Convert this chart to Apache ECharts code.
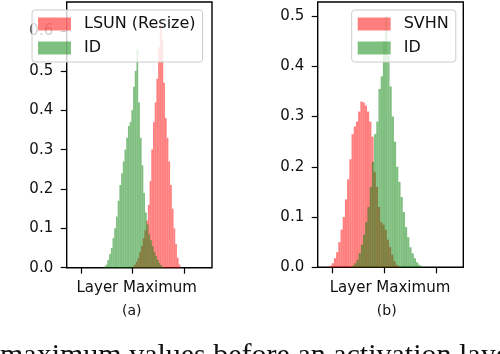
<!DOCTYPE html>
<html>
<head>
<meta charset="UTF-8">
<title>hist</title>
<script src="https://cdn.jsdelivr.net/npm/echarts@6/dist/echarts.min.js"></script>
<style>body{margin:0;background:#fff}#main{width:500px;height:354px}</style>
</head>
<body>
<div id="main"></div>
<script>
// tick positions (labels on x are hidden in the figure)
var xTicks = [0, 10, 20];
var yTicksA = [0, 0.1, 0.2, 0.3, 0.4, 0.5, 0.6];
var yTicksB = [0, 0.1, 0.2, 0.3, 0.4, 0.5];

// (a) LSUN (Resize) vs ID : first bin edge, bin width, bin heights
var lsunStart = 9.95, lsunWidth = 0.33;
var lsunHist = [0.003, 0.008, 0.015, 0.025, 0.04, 0.055, 0.075, 0.095, 0.12, 0.16,
  0.22, 0.30, 0.37, 0.42, 0.48, 0.56, 0.62, 0.58, 0.47, 0.38,
  0.33, 0.27, 0.21, 0.15, 0.10, 0.06, 0.025, 0.008];
var idAStart = 4.45, idAWidth = 0.33;
var idAHist = [0.003, 0.008, 0.02, 0.035, 0.05, 0.075, 0.10, 0.13, 0.17, 0.21,
  0.24, 0.27, 0.30, 0.33, 0.36, 0.37, 0.40, 0.46, 0.50, 0.555,
  0.42, 0.33, 0.26, 0.19, 0.14, 0.11, 0.085, 0.07, 0.055, 0.04,
  0.03, 0.02, 0.012, 0.006, 0.002];

// (b) SVHN vs ID
var svhnStart = -0.48, svhnWidth = 0.425;
var svhnHist = [0.003, 0.008, 0.018, 0.03, 0.05, 0.075, 0.10, 0.135, 0.175, 0.215,
  0.265, 0.28, 0.29, 0.31, 0.33, 0.328, 0.322, 0.31, 0.29, 0.26,
  0.19, 0.16, 0.12, 0.09, 0.085, 0.075, 0.055, 0.04, 0.025, 0.012,
  0.005, 0.002];
var idBStart = 3.86, idBWidth = 0.425;
var idBHist = [0.003, 0.008, 0.015, 0.028, 0.045, 0.065, 0.09, 0.12, 0.16, 0.21,
  0.265, 0.29, 0.355, 0.38, 0.45, 0.50, 0.42, 0.36, 0.30, 0.25,
  0.20, 0.17, 0.14, 0.11, 0.08, 0.06, 0.04, 0.028, 0.018, 0.01,
  0.005, 0.002];

var RED = 'rgba(255,0,0,0.5)';
var GREEN = 'rgba(0,128,0,0.5)';
var FONT = '"DejaVu Sans", sans-serif';

function bins(start, width, heights) {
  return heights.map(function (h, i) {
    return [start + i * width, start + (i + 1) * width, h];
  });
}

function renderBar(params, api) {
  var p0 = api.coord([api.value(0), 0]);
  var p1 = api.coord([api.value(1), api.value(2)]);
  return {
    type: 'rect',
    shape: { x: p0[0], y: p1[1], width: p1[0] - p0[0], height: p0[1] - p1[1] },
    style: { fill: api.visual('color') }
  };
}

function xAx(idx) {
  return {
    type: 'value', gridIndex: idx, min: -2.75, max: 25.3,
    axisLine: { show: false, onZero: false }, splitLine: { show: false },
    axisTick: { show: true, customValues: xTicks, length: 6, lineStyle: { color: '#000', width: 1.2 } },
    axisLabel: { show: false }
  };
}

function yAx(idx, max, ticks) {
  return {
    type: 'value', gridIndex: idx, min: 0, max: max,
    axisLine: { show: false, onZero: false }, splitLine: { show: false },
    axisTick: { show: true, customValues: ticks, length: 6, lineStyle: { color: '#000', width: 1.2 } },
    axisLabel: {
      customValues: ticks, margin: 13.5, fontSize: 15, color: '#111', fontFamily: FONT,
      formatter: function (v) { return v.toFixed(1); }
    }
  };
}

function legendBox(left, names) {
  return {
    data: names, orient: 'vertical', left: left, top: 10,
    padding: [6, 7, 6, 6], itemWidth: 33, itemHeight: 13, itemGap: 8,
    icon: 'rect', selectedMode: false,
    backgroundColor: 'rgba(255,255,255,0.8)', borderColor: '#cccccc', borderWidth: 1, borderRadius: 3,
    textStyle: { fontSize: 16, lineHeight: 16, color: '#111', fontFamily: FONT, padding: [0, 0, 0, 8] }
  };
}

var chart = echarts.init(document.getElementById('main'));
chart.setOption({
  animation: false,
  grid: [
    { left: 66.7, top: 2, width: 145.3, height: 265.7, show: true, borderColor: '#000', borderWidth: 1.4 },
    { left: 317.7, top: 2, width: 145.6, height: 265.3, show: true, borderColor: '#000', borderWidth: 1.4 }
  ],
  xAxis: [xAx(0), xAx(1)],
  yAxis: [yAx(0, 0.675, yTicksA), yAx(1, 0.528, yTicksB)],
  legend: [legendBox(32, ['LSUN (Resize)', 'ID']), legendBox(351.7, ['SVHN', 'ID'])],
  series: [
    { name: 'LSUN (Resize)', type: 'custom', xAxisIndex: 0, yAxisIndex: 0, renderItem: renderBar,
      itemStyle: { color: RED }, encode: { x: [0, 1], y: 2 }, data: bins(lsunStart, lsunWidth, lsunHist) },
    { name: 'ID', type: 'custom', xAxisIndex: 0, yAxisIndex: 0, renderItem: renderBar,
      itemStyle: { color: GREEN }, encode: { x: [0, 1], y: 2 }, data: bins(idAStart, idAWidth, idAHist) },
    { name: 'SVHN', type: 'custom', xAxisIndex: 1, yAxisIndex: 1, renderItem: renderBar,
      itemStyle: { color: RED }, encode: { x: [0, 1], y: 2 }, data: bins(svhnStart, svhnWidth, svhnHist) },
    { name: 'ID', type: 'custom', xAxisIndex: 1, yAxisIndex: 1, renderItem: renderBar,
      itemStyle: { color: GREEN }, encode: { x: [0, 1], y: 2 }, data: bins(idBStart, idBWidth, idBHist) }
  ],
  graphic: [
    { type: 'text', x: 136.7, y: 288, style: { text: 'Layer Maximum', fontSize: 15, fontFamily: FONT, fill: '#111', align: 'center', verticalAlign: 'middle' } },
    { type: 'text', x: 390, y: 288, style: { text: 'Layer Maximum', fontSize: 15, fontFamily: FONT, fill: '#111', align: 'center', verticalAlign: 'middle' } },
    { type: 'text', x: 131.7, y: 311.7, style: { text: '(a)', fontSize: 14, fontFamily: FONT, fill: '#111', align: 'center', verticalAlign: 'middle' } },
    { type: 'text', x: 386.7, y: 311.7, style: { text: '(b)', fontSize: 14, fontFamily: FONT, fill: '#111', align: 'center', verticalAlign: 'middle' } },
    { type: 'text', x: 0, y: 356, style: { text: 'maximum values before an activation layer', fontSize: 30, fontFamily: '"Liberation Serif", serif', fill: '#111', align: 'left', verticalAlign: 'middle' } }
  ]
});
</script>
</body>
</html>
